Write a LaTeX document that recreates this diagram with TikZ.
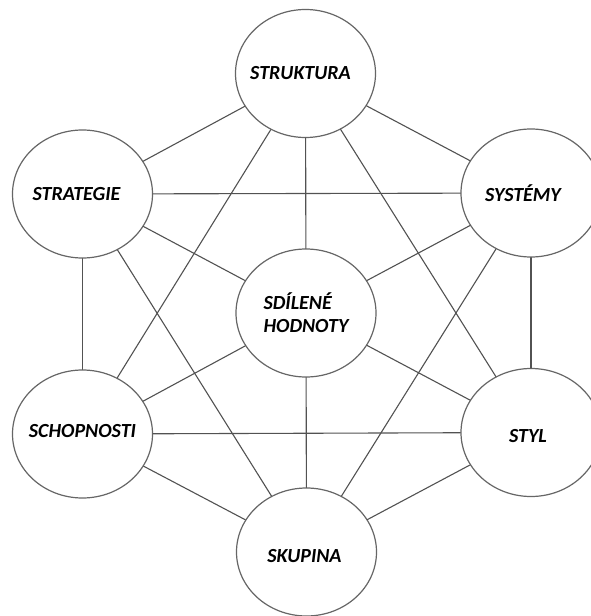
\documentclass[tikz,border=0pt]{standalone}
\usepackage{fontspec}
\setmainfont{Carlito}
\usetikzlibrary{shapes.geometric}
\tikzset{
  unit/.style={ellipse,draw=black!60,line width=1.2pt,fill=white,
    minimum width=140pt,minimum height=128pt,inner sep=0pt},
  tag/.style={font=\fontsize{20}{23}\selectfont\bfseries\itshape,inner sep=0pt},
  link/.style={draw=black!68,line width=1.1pt}
}

\begin{document}
\begin{tikzpicture}[line cap=round,line join=round,x=1pt,y=-1pt]
    \useasboundingbox (0,0) rectangle (591,616);
    \clip (0,0) rectangle (591,616);

    % Elements
    \node[unit] (struktura) at (305.5,73.5) [label={[tag,xshift=-5pt]center:STRUKTURA}] {};
    \node[unit] (strategie) at (82.5,194) [label={[tag,xshift=-6pt]center:STRATEGIE}] {};
    \node[unit] (systemy) at (531,193) [label={[tag,xshift=-8pt]center:SYSTÉMY}] {};
    \node[unit] (hodnoty) at (306,313) [label={[tag,align=left]center:{SDÍLENÉ\\HODNOTY}}] {};
    \node[unit] (schopnosti) at (82.5,434) [label={[tag,yshift=3pt]center:SCHOPNOSTI}] {};
    \node[unit] (styl) at (531,432.5) [label={[tag,xshift=-3pt,yshift=-4pt]center:STYL}] {};
    \node[unit] (skupina) at (306.5,552) [label={[tag,xshift=-2pt,yshift=-4pt]center:SKUPINA}] {};

    % Links
    \foreach \source/\target in {struktura/strategie, struktura/systemy, struktura/hodnoty,
        struktura/schopnosti, struktura/styl, strategie/systemy, strategie/hodnoty,
        strategie/schopnosti, strategie/skupina, systemy/hodnoty, systemy/styl,
        systemy/skupina, hodnoty/schopnosti, hodnoty/styl, hodnoty/skupina,
        schopnosti/styl, schopnosti/skupina, styl/skupina} {
            \draw[link] (\source) -- (\target);
        }
\end{tikzpicture}
\end{document}
